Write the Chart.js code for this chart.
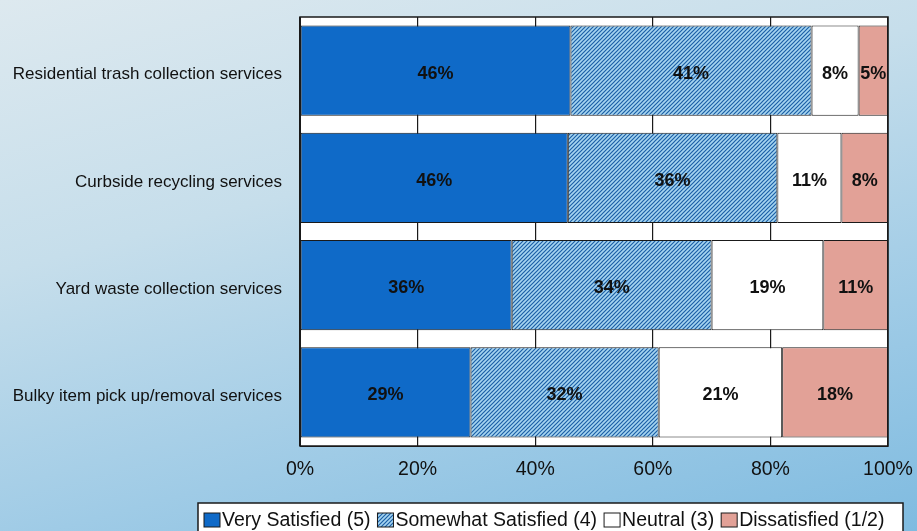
<!DOCTYPE html>
<html>
<head>
<meta charset="utf-8">
<script src="https://cdn.jsdelivr.net/npm/chart.js@4.4.1/dist/chart.umd.min.js"></script>
<style>
    html, body { margin: 0; padding: 0; }
    body {
        width: 917px; height: 531px; overflow: hidden;
        background: linear-gradient(165deg, #dde9ef 0%, #c6deeb 35%, #9fcbe6 70%, #7fbbe0 100%);
    }
</style>
</head>
<body>
<canvas id="satisfaction" width="917" height="531"></canvas>
<script>
var services = [
    'Residential trash collection services',
    'Curbside recycling services',
    'Yard waste collection services',
    'Bulky item pick up/removal services'
];
var verySatisfied = [46, 46, 36, 29];
var somewhatSatisfied = [41, 36, 34, 32];
var neutral = [8, 11, 19, 21];
var dissatisfied = [5, 8, 11, 18];
var legendLabels = ['Very Satisfied (5)', 'Somewhat Satisfied (4)', 'Neutral (3)', 'Dissatisfied (1/2)'];

var FONT = '"Liberation Sans", Arial, sans-serif';

// rows are shown as 100% stacks, so scale each row by its own total
var rowTotals = services.map(function(_, i) {
    return verySatisfied[i] + somewhatSatisfied[i] + neutral[i] + dissatisfied[i];
});
function share(values) {
    return values.map(function(v, i) { return v / rowTotals[i] * 100; });
}

function hatchPattern() {
    var c = document.createElement('canvas');
    c.width = 4; c.height = 4;
    var g = c.getContext('2d');
    g.fillStyle = '#a6d5f1';
    g.fillRect(0, 0, 4, 4);
    g.strokeStyle = '#1b5fa6';
    g.lineWidth = 1.2;
    g.beginPath();
    g.moveTo(0, 4); g.lineTo(4, 0);
    g.moveTo(-1, 1); g.lineTo(1, -1);
    g.moveTo(3, 5); g.lineTo(5, 3);
    g.stroke();
    return g.createPattern(c, 'repeat');
}

var plotFrame = {
    id: 'plotFrame',
    beforeDraw: function(chart) {
        var a = chart.chartArea, ctx = chart.ctx;
        ctx.save();
        ctx.fillStyle = '#ffffff';
        ctx.fillRect(a.left, a.top, a.right - a.left, a.bottom - a.top);
        ctx.restore();
    },
    afterDatasetsDraw: function(chart) {
        var a = chart.chartArea, ctx = chart.ctx;
        ctx.save();
        ctx.strokeStyle = '#1a1a1a';
        ctx.lineWidth = 1.5;
        ctx.strokeRect(a.left, a.top, a.right - a.left, a.bottom - a.top);
        ctx.restore();
    }
};

var barLabels = {
    id: 'barLabels',
    afterDatasetsDraw: function(chart) {
        var ctx = chart.ctx;
        ctx.save();
        ctx.font = 'bold 18px ' + FONT;
        ctx.fillStyle = '#111';
        ctx.textAlign = 'center';
        ctx.textBaseline = 'middle';
        chart.data.datasets.forEach(function(ds, di) {
            chart.getDatasetMeta(di).data.forEach(function(bar, i) {
                var p = bar.getProps(['x', 'y', 'base'], true);
                ctx.fillText(ds.values[i] + '%', (p.x + p.base) / 2, p.y + 3);
            });
        });
        ctx.restore();
    }
};

var boxedLegend = {
    id: 'boxedLegend',
    afterDraw: function(chart) {
        var ctx = chart.ctx;
        var left = 198, right = 903, top = 503, mid = 520;
        ctx.save();
        ctx.fillStyle = '#ffffff';
        ctx.fillRect(left, top, right - left, 40);
        ctx.strokeStyle = '#1a1a1a';
        ctx.lineWidth = 1.5;
        ctx.strokeRect(left, top, right - left, 40);
        ctx.font = '19.5px ' + FONT;
        ctx.textBaseline = 'middle';
        var x = 204;
        chart.data.datasets.forEach(function(ds) {
            ctx.fillStyle = ds.backgroundColor;
            ctx.fillRect(x, mid - 7, 16, 14);
            ctx.lineWidth = 1;
            ctx.strokeRect(x, mid - 7, 16, 14);
            ctx.fillStyle = '#111';
            ctx.fillText(ds.label, x + 18, mid + 1);
            x += 18 + ctx.measureText(ds.label).width + 7;
        });
        ctx.restore();
    }
};

function series(label, values, color) {
    return {
        label: label,
        values: values,
        data: share(values),
        backgroundColor: color,
        borderColor: '#1a1a1a',
        borderWidth: 1,
        borderSkipped: false,
        barPercentage: 0.84,
        categoryPercentage: 1
    };
}

function noOverhang(s) {
    s.paddingLeft = 0; s.paddingRight = 0;
    s.paddingTop = 0; s.paddingBottom = 0;
}

new Chart(document.getElementById('satisfaction'), {
    type: 'bar',
    data: {
        labels: services,
        datasets: [
            series(legendLabels[0], verySatisfied, '#0f6ac8'),
            series(legendLabels[1], somewhatSatisfied, hatchPattern()),
            series(legendLabels[2], neutral, '#ffffff'),
            series(legendLabels[3], dissatisfied, '#e2a197')
        ]
    },
    options: {
        indexAxis: 'y',
        responsive: false,
        animation: false,
        layout: { padding: { top: 17, right: 29, bottom: 45, left: 0 } },
        plugins: {
            legend: { display: false },
            tooltip: { enabled: false }
        },
        scales: {
            x: {
                stacked: true,
                min: 0,
                max: 100,
                ticks: {
                    stepSize: 20,
                    padding: 12,
                    color: '#111',
                    font: { family: FONT, size: 19.5 },
                    callback: function(v) { return v + '%'; }
                },
                grid: { color: '#1a1a1a', lineWidth: 1.2, drawTicks: false },
                border: { color: '#1a1a1a' },
                afterFit: function(s) { s.height = 40; noOverhang(s); }
            },
            y: {
                stacked: true,
                ticks: {
                    padding: 10,
                    labelOffset: 4,
                    color: '#111',
                    font: { family: FONT, size: 17 }
                },
                grid: { display: false },
                border: { color: '#1a1a1a' },
                afterFit: function(s) { s.width = 300; noOverhang(s); }
            }
        }
    },
    plugins: [plotFrame, barLabels, boxedLegend]
});
</script>
</body>
</html>
